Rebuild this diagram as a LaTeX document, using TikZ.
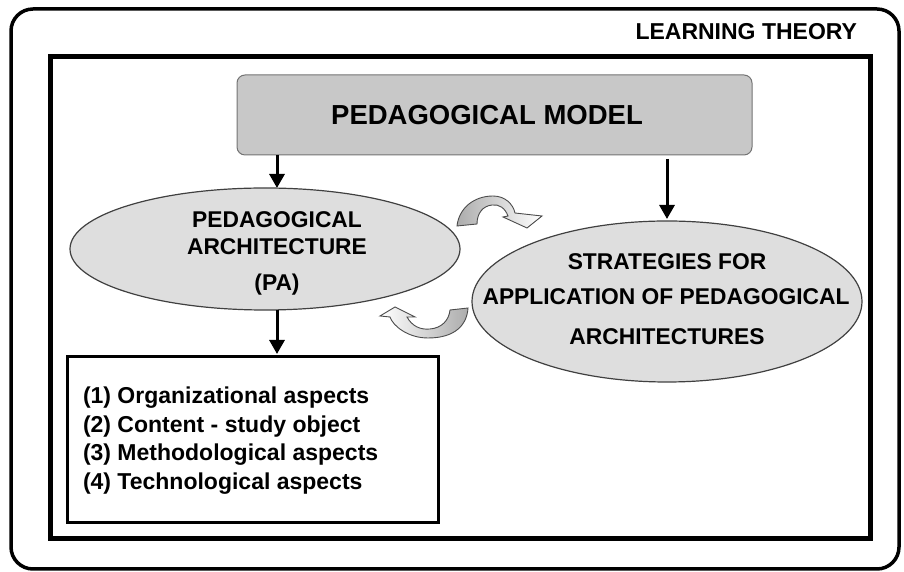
\documentclass[tikz,border=0pt]{standalone}
\usepackage{fontspec}
\setmainfont{Liberation Sans}
\usetikzlibrary{shapes.geometric,arrows.meta}
\definecolor{boxgray}{RGB}{200,200,200}
\definecolor{ellgray}{RGB}{222,222,222}
\begin{document}
\begin{tikzpicture}[x=1pt,y=1pt,
  every node/.style={inner sep=0pt, outer sep=0pt},
  txt/.style={font=\bfseries\fontsize{22.8}{26}\selectfont, anchor=base},
  listtxt/.style={font=\bfseries\fontsize{23}{27}\selectfont, anchor=base west},
  arr/.style={line width=3pt, -{Triangle[width=15pt,length=14pt]}},
  curv/.style={draw=black!70, line width=0.9pt},
  ell/.style={ellipse, draw=black!75, line width=1.2pt, fill=ellgray},
]
\useasboundingbox (0,0) rectangle (904,572);
\draw[line width=3.5pt, rounded corners=22pt] (11,3) rectangle (899,563);
\node[draw, line width=5pt, minimum width=820, minimum height=482] (frame) at (460,274) {};
\node[anchor=base east, font=\bfseries\fontsize{23}{26}\selectfont] (lt) at (857,532) {LEARNING THEORY};

\node[draw=black!55, fill=boxgray, rounded corners=8pt, line width=1pt,
      minimum width=515, minimum height=80] (model) at (494.5,457) {};
\node[font=\bfseries\fontsize{27.5}{30}\selectfont] (modelt) at (487,457) {PEDAGOGICAL MODEL};

\node[ell, minimum width=390, minimum height=122] (pa) at (265,323) {};
\node[txt] (pa1) at (277,344) {PEDAGOGICAL};
\node[txt] (pa2) at (277,317) {ARCHITECTURE};
\node[txt] (pa3) at (277,281) {(PA)};

\node[ell, minimum width=390, minimum height=161] (st) at (667,270.5) {};
\node[txt] (st1) at (667,302) {STRATEGIES FOR};
\node[txt] (st2) at (666,267) {APPLICATION OF PEDAGOGICAL};
\node[txt] (st3) at (667,227) {ARCHITECTURES};

\node[draw, line width=3pt, minimum width=371, minimum height=166] (list) at (252.5,132) {};
\node[listtxt] (l1) at (83,168) {(1) Organizational aspects};
\node[listtxt] (l2) at (83,139.5) {(2) Content - study object};
\node[listtxt] (l3) at (83,111) {(3) Methodological aspects};
\node[listtxt] (l4) at (83,82) {(4) Technological aspects};

\coordinate (pax) at (277,0);
\draw[arr] (model.south -| pax) -- (pa.north -| pax);
\draw[arr, shorten >=2pt] ([yshift=-4pt]model.south -| st.north) -- (st.north);
\draw[arr, shorten >=3pt] (pa.south -| pax) -- (list.north -| pax);

% curved arrows
\draw[curv, left color=gray!65, middle color=white, right color=white]
  (457,346) .. controls (459,364) and (474,376) .. (493,376)
  .. controls (505,376) and (513,368) .. (515,359)
  -- (542,356) -- (527,344) -- (503,355) -- (508,356)
  .. controls (505,364) and (499,368) .. (492,367)
  .. controls (483,366) and (477,359) .. (477,348) -- cycle;
\draw[curv, left color=white, middle color=white, right color=gray!65]
  (468,264) .. controls (467,247) and (455,234) .. (428,234)
  .. controls (408,234) and (393,246) .. (390,255)
  -- (380,256) -- (395,265) -- (415,255) -- (407,255)
  .. controls (412,246) and (420,242) .. (430,243)
  .. controls (442,244) and (449,252) .. (450,262) -- cycle;
\end{tikzpicture}
\end{document}
